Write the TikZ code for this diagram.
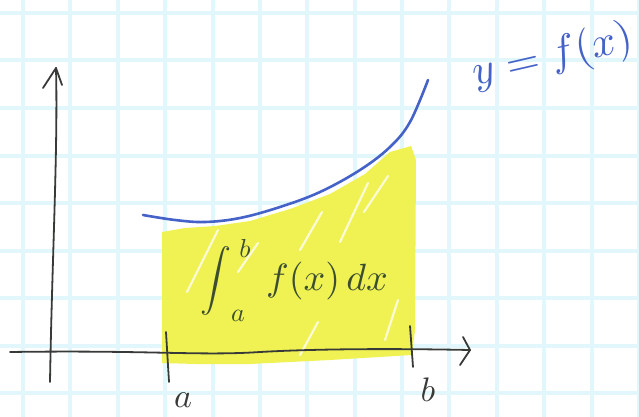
\documentclass[tikz,border=0pt]{standalone}
\usepackage{amsmath}
\usepackage{graphicx}
\definecolor{gridc}{RGB}{226,247,251}
\definecolor{pencil}{RGB}{55,58,55}
\definecolor{inkgreen}{RGB}{60,78,48}
\definecolor{penblue}{RGB}{68,98,200}
\definecolor{hilite}{RGB}{240,242,84}
\tikzset{
  gridline/.style={draw=gridc, line width=4pt},
  axisline/.style={draw=pencil, line width=1.8pt, line cap=round, line join=round},
  curveline/.style={draw=penblue, line width=2.6pt, line cap=round},
  streak/.style={draw=white, line width=2.2pt, opacity=0.75, line cap=round},
  hand/.style={inner sep=0pt, text=pencil},
}
\begin{document}
\begin{tikzpicture}[x=1pt,y=-1pt]
\useasboundingbox (0,0) rectangle (639,417);
\fill[white] (0,0) rectangle (639,417);
\begin{scope}
\clip (0,0) rectangle (639,417);
\foreach \i in {0,...,13} \draw[gridline] ({23+47.38*\i},0) -- ++(0,417);
\foreach \j in {0,...,8} \draw[gridline] (0,{13+47.5*\j}) -- ++(639,0);
\end{scope}
% highlighted area
\fill[hilite] (162,232) -- (185,228) -- (215,226) -- (250,221) -- (290,209)
  -- (330,194) -- (365,174) -- (390,152) -- (411,146) -- (416,160) -- (415,330)
  -- (412,355) -- (330,360) -- (250,364) -- (195,364) -- (162,363) -- cycle;
\draw[streak] (187,292) -- (218,230);
\draw[streak] (238,272) -- (258,243);
\draw[streak] (300,250) -- (322,212);
\draw[streak] (340,242) -- (368,183);
\draw[streak] (364,212) -- (388,176);
\draw[streak] (300,355) -- (318,322);
\draw[streak] (385,340) -- (398,300);
% curve
\draw[curveline] plot[smooth, tension=0.6] coordinates {(143,215) (175,220) (205,222) (240,218) (280,207) (320,192) (360,170) (390,147) (410,122) (428,80)};
% axes
\coordinate (ybot) at (50,382);
\coordinate (ytop) at (56,68);
\coordinate (xl) at (10,352);
\coordinate (xr) at (470,350);
\draw[axisline] (ybot) .. controls (52,260) and (58,150) .. (ytop);
\draw[axisline] (43,88) -- (ytop) -- (62,85);
\draw[axisline] (xl) .. controls (150,350) and (200,356) .. (260,352) .. controls (330,348) and (420,349) .. (xr);
\draw[axisline] (463,337) -- (xr) -- (460,365);
% ticks
\coordinate (ta1) at (166,332);
\coordinate (ta2) at (169,382);
\coordinate (tb1) at (410,326);
\coordinate (tb2) at (413,367);
\draw[axisline] (ta1) -- (ta2);
\draw[axisline] (tb1) -- (tb2);
% labels
\node[hand] (la) at (183,400) {\scalebox{3.4}{$a$}};
\node[hand] (lb) at (428,390) {\scalebox{3.4}{$b$}};
\node[inner sep=0pt, text=penblue, rotate=13] (lbl) at (553,57) {\scalebox{4.3}{$y=f(x)$}};
% integral
\node[hand, text=inkgreen] (int) at (216,281) {\scalebox{3.1}{$\displaystyle\int$}};
\node[hand, text=inkgreen] (isub) at (238,316) {\scalebox{2.6}{$a$}};
\node[hand, text=inkgreen] (isup) at (245,248) {\scalebox{2.6}{$b$}};
\node[hand, text=inkgreen] (itg) at (327,281) {\scalebox{3.8}{$f(x)\,dx$}};
\end{tikzpicture}
\end{document}
